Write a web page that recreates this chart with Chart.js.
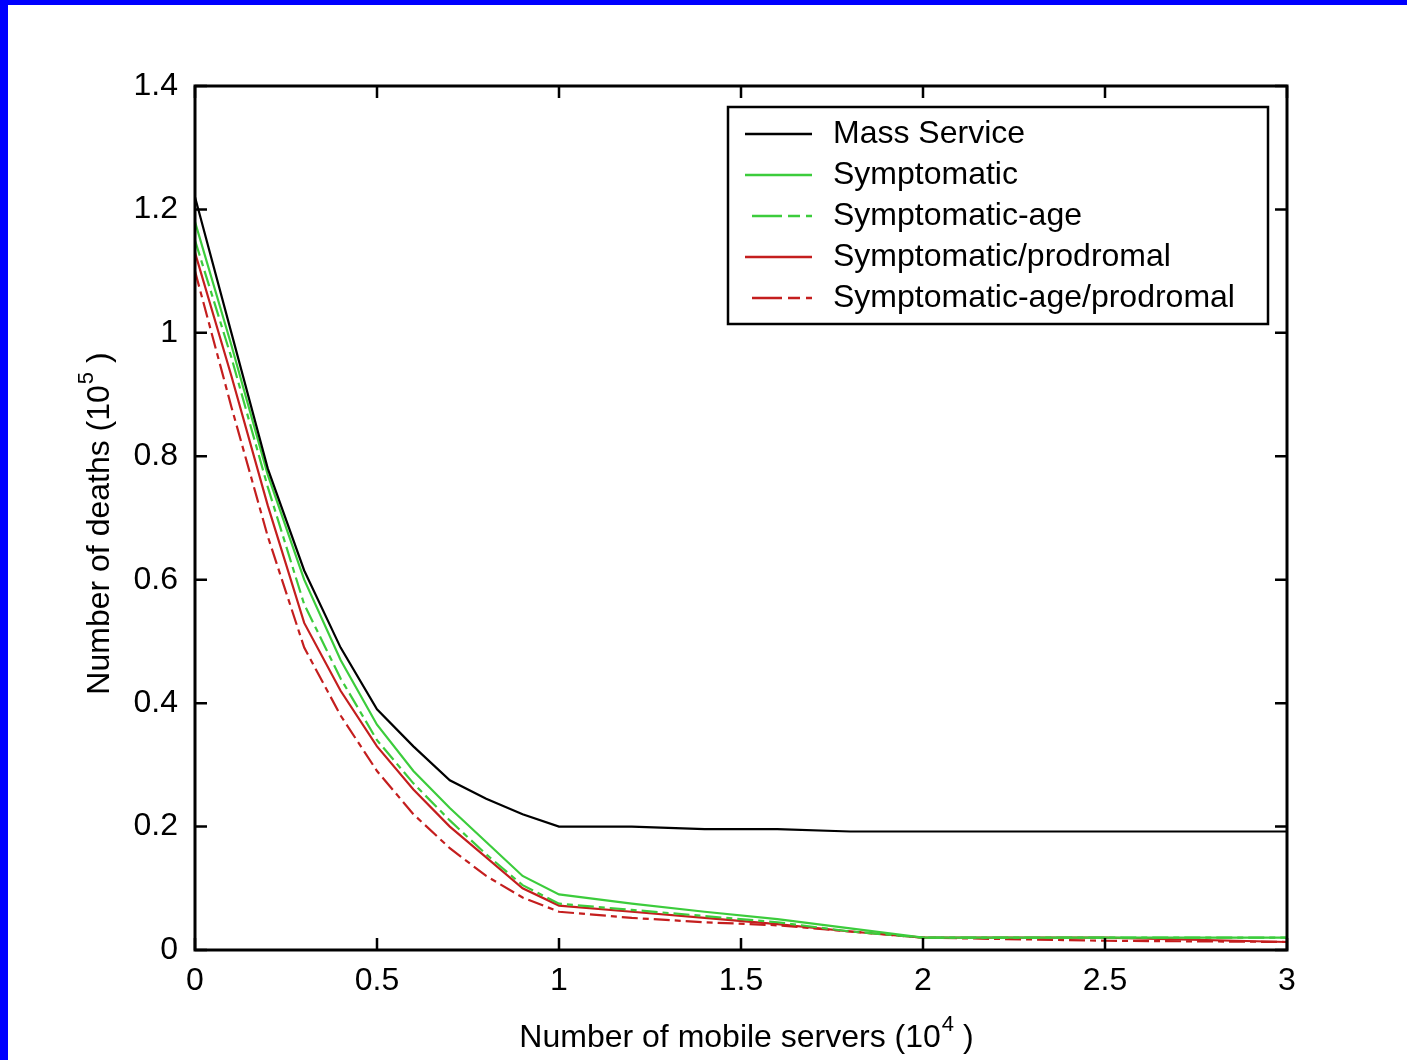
<!DOCTYPE html>
<html>
<head>
<meta charset="utf-8">
<script src="https://cdn.jsdelivr.net/npm/chart.js"></script>
<style>
  html, body { margin: 0; padding: 0; background: #0000ff; overflow: hidden; }
  #frame { position: absolute; left: 8px; top: 5px; width: 1399px; height: 1055px; background: #fff; }
</style>
</head>
<body>
<div id="frame"><canvas id="deaths"></canvas></div>
<script>
// number of mobile servers (10^4)
const servers = [0, 0.1, 0.2, 0.3, 0.4, 0.5, 0.6, 0.7, 0.8, 0.9, 1.0, 1.2, 1.4, 1.6, 1.8, 2.0, 2.5, 3.0];
// number of deaths (10^5)
const massService      = [1.22, 1.0, 0.78, 0.615, 0.49, 0.39, 0.33, 0.275, 0.245, 0.22, 0.2, 0.2, 0.196, 0.196, 0.192, 0.192, 0.192, 0.192];
const symptomatic      = [1.18, 0.98, 0.77, 0.6, 0.47, 0.365, 0.29, 0.23, 0.175, 0.12, 0.09, 0.075, 0.062, 0.05, 0.035, 0.02, 0.02, 0.02];
const symptomaticAge   = [1.15, 0.96, 0.75, 0.56, 0.44, 0.34, 0.27, 0.21, 0.155, 0.105, 0.075, 0.065, 0.055, 0.045, 0.03, 0.02, 0.02, 0.02];
const sympProdromal    = [1.13, 0.93, 0.72, 0.53, 0.42, 0.33, 0.26, 0.2, 0.15, 0.1, 0.072, 0.062, 0.052, 0.042, 0.03, 0.02, 0.02, 0.013];
const sympAgeProdromal = [1.1, 0.88, 0.67, 0.49, 0.38, 0.29, 0.22, 0.165, 0.12, 0.085, 0.062, 0.052, 0.045, 0.04, 0.03, 0.02, 0.015, 0.013];

const xTicks = [0, 0.5, 1, 1.5, 2, 2.5, 3];
const yTicks = [0, 0.2, 0.4, 0.6, 0.8, 1, 1.2, 1.4];

const FONT = '"Liberation Sans", Arial, sans-serif';
const dashDot = [16, 5, 6, 5];

function points(values) {
  return servers.map((s, i) => ({ x: s, y: values[i] }));
}

function line(label, values, color, dash) {
  return {
    label: label,
    data: points(values),
    borderColor: color,
    backgroundColor: color,
    borderWidth: 2.2,
    borderDash: dash || [],
    pointRadius: 0,
    tension: 0,
    fill: false
  };
}

// text with a raised exponent, centred on (cx, cy)
function supText(ctx, base, sup, tail, cx, cy) {
  ctx.font = '32px ' + FONT;
  const wb = ctx.measureText(base).width;
  const wt = ctx.measureText(tail).width;
  ctx.font = '22px ' + FONT;
  const ws = ctx.measureText(sup).width;
  let x0 = cx - (wb + ws + wt) / 2;
  ctx.textAlign = 'left';
  ctx.textBaseline = 'middle';
  ctx.font = '32px ' + FONT;
  ctx.fillText(base, x0, cy);
  ctx.font = '22px ' + FONT;
  ctx.fillText(sup, x0 + wb + 1, cy - 13);
  ctx.font = '32px ' + FONT;
  ctx.fillText(tail, x0 + wb + ws + 1, cy);
}

const framePlugin = {
  id: 'frame',
  afterDatasetsDraw(chart) {
    const ctx = chart.ctx;
    const a = chart.chartArea;
    const xs = chart.scales.x, ys = chart.scales.y;
    ctx.save();
    ctx.strokeStyle = '#000';
    ctx.fillStyle = '#000';
    ctx.lineWidth = 3;
    ctx.strokeRect(a.left, a.top, a.right - a.left, a.bottom - a.top);

    // inward ticks on all four sides
    ctx.lineWidth = 2.5;
    ctx.beginPath();
    xTicks.forEach(v => {
      const px = xs.getPixelForValue(v);
      ctx.moveTo(px, a.bottom); ctx.lineTo(px, a.bottom - 12);
      ctx.moveTo(px, a.top); ctx.lineTo(px, a.top + 12);
    });
    yTicks.forEach(v => {
      const py = ys.getPixelForValue(v);
      ctx.moveTo(a.left, py); ctx.lineTo(a.left + 12, py);
      ctx.moveTo(a.right, py); ctx.lineTo(a.right - 12, py);
    });
    ctx.stroke();

    // legend box
    const bw = 540, bh = 217;
    const bx = a.right - 19 - bw, by = a.top + 21;
    ctx.fillStyle = '#fff';
    ctx.fillRect(bx, by, bw, bh);
    ctx.lineWidth = 2.5;
    ctx.strokeRect(bx, by, bw, bh);
    ctx.font = '32px ' + FONT;
    ctx.textAlign = 'left';
    ctx.textBaseline = 'middle';
    chart.data.datasets.forEach((ds, i) => {
      const ry = by + 27 + i * 41;
      ctx.save();
      ctx.strokeStyle = ds.borderColor;
      ctx.lineWidth = 2.5;
      ctx.setLineDash(ds.borderDash.length ? [30, 6, 12, 6] : []);
      ctx.beginPath();
      ctx.moveTo(bx + (ds.borderDash.length ? 24 : 17), ry);
      ctx.lineTo(bx + 84, ry);
      ctx.stroke();
      ctx.restore();
      ctx.fillStyle = '#000';
      ctx.fillText(ds.label, bx + 105, ry);
    });

    // axis titles
    ctx.fillStyle = '#000';
    supText(ctx, 'Number of mobile servers (10', '4', ' )', (a.left + a.right) / 2 + 5, a.bottom + 88);
    ctx.save();
    ctx.translate(a.left - 95, (a.top + a.bottom) / 2 + 6);
    ctx.rotate(-Math.PI / 2);
    supText(ctx, 'Number of deaths (10', '5', ' )', 0, 0);
    ctx.restore();
    ctx.restore();
  }
};

new Chart(document.getElementById('deaths'), {
  type: 'line',
  data: {
    datasets: [
      line('Mass Service', massService, '#000000'),
      line('Symptomatic', symptomatic, '#3ccc3c'),
      line('Symptomatic-age', symptomaticAge, '#3ccc3c', dashDot),
      line('Symptomatic/prodromal', sympProdromal, '#c41e1e'),
      line('Symptomatic-age/prodromal', sympAgeProdromal, '#c41e1e', dashDot)
    ]
  },
  options: {
    responsive: true,
    maintainAspectRatio: false,
    animation: false,
    layout: { padding: { left: 0, top: 81, right: 120, bottom: 0 } },
    plugins: { legend: { display: false }, tooltip: { enabled: false } },
    scales: {
      x: {
        type: 'linear',
        min: 0,
        max: 3,
        grid: { display: false, drawTicks: false },
        border: { display: false },
        afterBuildTicks: s => { s.ticks = xTicks.map(v => ({ value: v })); },
        afterFit: s => { s.height = 110; },
        ticks: {
          color: '#000',
          padding: 12,
          maxRotation: 0,
          autoSkip: false,
          font: { family: FONT, size: 32 },
          callback: v => String(v)
        }
      },
      y: {
        type: 'linear',
        min: 0,
        max: 1.4,
        grid: { display: false, drawTicks: false },
        border: { display: false },
        afterBuildTicks: s => { s.ticks = yTicks.map(v => ({ value: v })); },
        afterFit: s => { s.width = 187; },
        ticks: {
          color: '#000',
          padding: 17,
          autoSkip: false,
          font: { family: FONT, size: 32 },
          callback: v => String(v)
        }
      }
    }
  },
  plugins: [framePlugin]
});
</script>
</body>
</html>
